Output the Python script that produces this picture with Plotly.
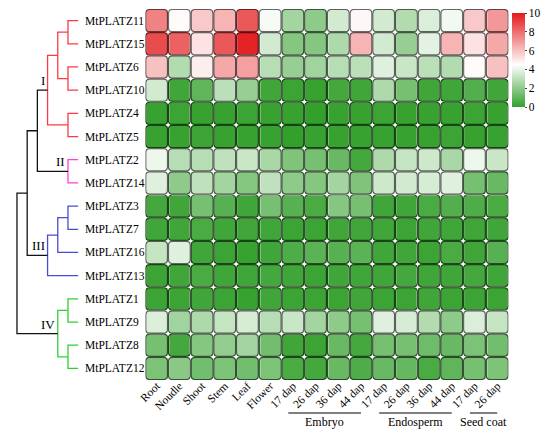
import plotly.graph_objects as go
from plotly.colors import sample_colorscale, unlabel_rgb

# page body has an 8px margin, so the figure is a bit smaller than the window
PAD = 8
W, H = 550 - PAD, 430 - PAD


def px(x):
    return (x - PAD) / W


def py(y):
    return 1 - (y - PAD) / H


genes = ["MtPLATZ11", "MtPLATZ15", "MtPLATZ6", "MtPLATZ10", "MtPLATZ4", "MtPLATZ5",
         "MtPLATZ2", "MtPLATZ14", "MtPLATZ3", "MtPLATZ7", "MtPLATZ16", "MtPLATZ13",
         "MtPLATZ1", "MtPLATZ9", "MtPLATZ8", "MtPLATZ12"]
tissues = ["Root", "Noudle", "Shoot", "Stem", "Leaf", "Flower",
           "17 dap", "26 dap", "36 dap", "44 dap",
           "17 dap", "26 dap", "36 dap", "44 dap",
           "17 dap", "26 dap"]

# expression values per gene (same order as tissues)
MtPLATZ11 = [7.5, 4.6, 5.8, 6.3, 8.5, 4.3, 2.5, 2.0, 3.5, 4.7, 3.5, 2.8, 3.7, 4.2, 5.8, 7.0]
MtPLATZ15 = [8.8, 8.3, 5.2, 8.5, 9.8, 3.5, 1.8, 1.8, 2.7, 6.3, 3.5, 2.2, 3.9, 6.3, 5.2, 6.6]
MtPLATZ6 = [6.0, 2.8, 4.9, 6.6, 6.8, 2.9, 2.2, 2.4, 2.9, 3.0, 3.8, 3.3, 3.0, 2.8, 4.6, 6.0]
MtPLATZ10 = [3.5, 0.3, 1.0, 3.0, 2.2, 0.3, 0.2, 0.1, 0.4, 0.3, 2.7, 1.5, 0.3, 0.3, 0.7, 0.3]
MtPLATZ4 = [0.1, 0.2, 0.1, 0.1, 0.2, 0.1, 0.1, 0.0, 0.1, 0.1, 0.2, 0.1, 0.1, 0.1, 0.2, 0.1]
MtPLATZ5 = [0.1, 0.1, 0.2, 0.1, 0.1, 0.1, 0.0, 0.1, 0.1, 0.1, 0.1, 0.1, 0.1, 0.2, 0.1, 0.1]
MtPLATZ2 = [4.1, 2.9, 2.9, 3.1, 3.3, 2.6, 1.7, 1.5, 1.2, 0.4, 2.7, 3.2, 3.4, 2.6, 4.1, 3.3]
MtPLATZ14 = [3.8, 2.0, 3.1, 2.5, 1.8, 3.1, 2.0, 1.8, 2.5, 1.7, 3.4, 3.5, 3.6, 3.8, 1.5, 1.2]
MtPLATZ3 = [0.4, 0.3, 1.5, 0.8, 0.3, 1.5, 0.8, 0.5, 1.8, 1.5, 0.3, 0.3, 0.5, 0.7, 0.6, 0.5]
MtPLATZ7 = [0.3, 0.3, 0.5, 0.3, 0.3, 0.3, 0.2, 0.2, 0.3, 0.3, 0.3, 0.2, 0.3, 0.3, 0.3, 0.3]
MtPLATZ16 = [3.2, 3.8, 0.3, 0.2, 0.1, 0.3, 0.6, 0.9, 0.8, 0.9, 0.3, 0.3, 0.2, 0.5, 0.3, 0.8]
MtPLATZ13 = [0.2, 0.3, 0.5, 0.3, 0.3, 0.4, 0.3, 0.2, 0.3, 0.3, 0.3, 0.4, 0.3, 0.3, 0.4, 0.3]
MtPLATZ1 = [0.2, 0.2, 0.3, 0.2, 0.1, 0.3, 0.2, 0.2, 0.2, 0.3, 0.2, 0.2, 0.3, 0.2, 0.2, 0.2]
MtPLATZ9 = [3.7, 2.4, 2.7, 3.2, 3.6, 2.9, 3.3, 2.5, 2.0, 1.5, 3.8, 3.6, 2.8, 2.0, 3.7, 3.2]
MtPLATZ8 = [1.5, 0.4, 1.8, 2.1, 2.5, 1.4, 0.3, 0.2, 1.2, 0.4, 1.5, 1.5, 1.3, 1.2, 1.6, 1.4]
MtPLATZ12 = [1.6, 1.9, 1.4, 1.6, 1.4, 1.6, 0.5, 0.4, 1.2, 0.6, 1.2, 1.1, 0.5, 1.0, 1.5, 1.6]

z = [MtPLATZ11, MtPLATZ15, MtPLATZ6, MtPLATZ10, MtPLATZ4, MtPLATZ5, MtPLATZ2, MtPLATZ14,
     MtPLATZ3, MtPLATZ7, MtPLATZ16, MtPLATZ13, MtPLATZ1, MtPLATZ9, MtPLATZ8, MtPLATZ12]

# seed development groups under the columns
stage_names = ["Embryo", "Endosperm", "Seed coat"]
stage_first = [6, 10, 14]
stage_last = [9, 13, 15]

# gene tree: merge k makes node 16+k
RED, PINK, BLUE, GREEN, BLACK = "#fb3a45", "#ff3fd6", "#4a4ad2", "#2fcf37", "#111111"
merge_left = [0, 2, 16, 4, 18, 6, 20, 8, 23, 24, 22, 12, 14, 27, 26]
merge_right = [1, 3, 17, 5, 19, 7, 21, 9, 10, 11, 25, 13, 15, 28, 29]
merge_height = [1, 1, 2, 1, 3, 1, 4, 1, 2, 3, 5, 1, 1, 2, 6]
merge_color = [RED, RED, RED, RED, RED, PINK, BLACK, BLUE, BLUE, BLUE, BLACK,
               GREEN, GREEN, GREEN, BLACK]
clade_names = ["I", "II", "III", "IV"]
clade_nodes = [20, 21, 25, 29]

colorscale = [[0, "rgb(51,160,44)"], [0.45, "rgb(255,255,255)"], [1, "rgb(228,26,28)"]]
SERIF = "Liberation Serif, Times New Roman, serif"

fig = go.Figure()

fig.add_trace(go.Heatmap(
    z=z, x=list(range(len(tissues))), y=list(range(len(genes))),
    colorscale=colorscale, zmin=0, zmax=10, xgap=2, ygap=2,
    colorbar=dict(
        x=px(512), xanchor="left", y=py(13), yanchor="top",
        len=94 / H, thickness=13, xpad=0, ypad=0, outlinewidth=0,
        tickmode="array", tickvals=[0, 2, 4, 6, 8, 9.995],
        ticktext=["0", "2", "4", "6", "8", "10"], ticklabeloverflow="allow",
        ticks="outside", ticklen=2,
        tickfont=dict(family=SERIF, size=11.5, color="black"),
    ),
    hovertemplate="%{z}<extra></extra>",
))

# dendrogram
node_h = [0] * len(genes)
node_y = list(range(len(genes)))
for l, r, h, c in zip(merge_left, merge_right, merge_height, merge_color):
    fig.add_trace(go.Scatter(
        x=[node_h[l], h, h, node_h[r]],
        y=[node_y[l], node_y[l], node_y[r], node_y[r]],
        mode="lines", line=dict(color=c, width=1.3),
        xaxis="x2", yaxis="y", hoverinfo="skip", showlegend=False,
    ))
    node_h.append(h)
    node_y.append((node_y[l] + node_y[r]) / 2)

for name, n in zip(clade_names, clade_nodes):
    fig.add_annotation(x=node_h[n], y=node_y[n], xref="x2", yref="y", text=name,
                       showarrow=False, xanchor="right", yanchor="bottom",
                       xshift=-1, yshift=0, font=dict(family=SERIF, size=13, color="black"))

for i, g in enumerate(genes):
    fig.add_annotation(x=px(77), y=i, xref="paper", yref="y", text=g, showarrow=False,
                       xanchor="left", yanchor="middle",
                       font=dict(family=SERIF, size=11.5, color="black"))

# rounded cell borders
rad, d = 0.17, 0.022
for i, row in enumerate(z):
    for j, v in enumerate(row):
        r_, g_, b_ = unlabel_rgb(sample_colorscale(colorscale, [v / 10])[0])
        edge = "rgb(%d,%d,%d)" % (r_ * 0.42, g_ * 0.42, b_ * 0.42)
        x0, x1 = j - 0.5 + d, j + 0.5 - d
        y0, y1 = i - 0.5 + d, i + 0.5 - d
        path = (f"M{x0+rad},{y0} L{x1-rad},{y0} Q{x1},{y0} {x1},{y0+rad} "
                f"L{x1},{y1-rad} Q{x1},{y1} {x1-rad},{y1} L{x0+rad},{y1} "
                f"Q{x0},{y1} {x0},{y1-rad} L{x0},{y0+rad} Q{x0},{y0} {x0+rad},{y0} Z")
        fig.add_shape(type="path", path=path, xref="x", yref="y",
                      line=dict(color=edge, width=1.2))

for name, a, b in zip(stage_names, stage_first, stage_last):
    fig.add_shape(type="line", xref="x", yref="paper", x0=a - 0.2, x1=b,
                  y0=py(413), y1=py(413), line=dict(color="black", width=1))
    fig.add_annotation(x=(a - 0.2 + b) / 2, y=py(422), xref="x", yref="paper",
                       text=name, showarrow=False, yanchor="middle",
                       font=dict(family=SERIF, size=12, color="black"))

fig.update_layout(
    width=W, height=H, margin=dict(l=0, r=0, t=0, b=0),
    paper_bgcolor="white", plot_bgcolor="white",
    xaxis=dict(domain=[px(140), px(508)], range=[-0.5, 15.5], tickvals=list(range(16)),
               ticktext=tissues, tickangle=-45, ticks="", ticklabelstandoff=-4,
               showgrid=False, zeroline=False, showline=False,
               tickfont=dict(family=SERIF, size=11.5, color="black")),
    yaxis=dict(domain=[py(380), py(9)], range=[15.5, -0.5], showticklabels=False,
               showgrid=False, zeroline=False, showline=False),
    xaxis2=dict(domain=[px(8), px(74)], range=[6.194, -0.194], visible=False,
                anchor="y"),
)

fig.write_html("out.html")
